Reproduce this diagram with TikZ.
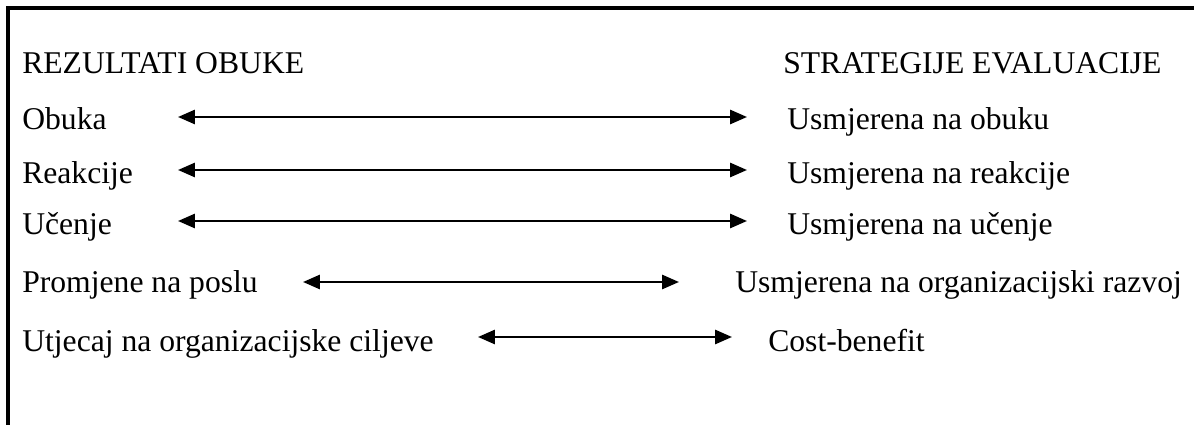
\documentclass[tikz,border=0pt]{standalone}
\usepackage{fontspec}
\setmainfont{Liberation Serif}
\usepackage{tikz}
\usetikzlibrary{arrows.meta,positioning,calc}

\tikzset{
  lbl/.style={anchor=base west, inner sep=0pt, font=\fontsize{22.5}{27}\selectfont},
  veza/.style={line width=1.7pt, {Triangle[length=12pt,width=10pt]}-{Triangle[length=12pt,width=10pt]}}
}

\begin{document}
\begin{tikzpicture}[x=0.025cm,y=-0.025cm]
        \useasboundingbox (0,0) rectangle (1194,425);
        % Frame (open at right and bottom)
        \draw[line width=2.2pt] (8,425) -- (8,8) -- (1194,8);

        % Headers
        \node[lbl] (rez) at (22,74) {REZULTATI OBUKE};
        \node[lbl] (str) at (783,74) {STRATEGIJE EVALUACIJE};

        % Left column
        \node[lbl] (obuka) at (22,130) {Obuka};
        \node[lbl] (reak) at (22,184) {Reakcije};
        \node[lbl] (ucen) at (22,235) {Učenje};
        \node[lbl] (prom) at (22,293) {Promjene na poslu};
        \node[lbl] (utj) at (22,351) {Utjecaj na organizacijske ciljeve};

        % Right column
        \node[lbl] (sobuka) at (787,130) {Usmjerena na obuku};
        \node[lbl] (sreak) at (787,184) {Usmjerena na reakcije};
        \node[lbl] (sucen) at (787,235) {Usmjerena na učenje};
        \node[lbl] (sprom) at (735,293) {Usmjerena na organizacijski razvoj};
        \node[lbl] (sutj) at (768,351) {Cost-benefit};

        % Arrow ends
        \coordinate (a1) at (178,117); \coordinate (b1) at (747,117);
        \coordinate (a2) at (178,170); \coordinate (b2) at (747,170);
        \coordinate (a3) at (178,221); \coordinate (b3) at (747,221);
        \coordinate (a4) at (303,282); \coordinate (b4) at (679,282);
        \coordinate (a5) at (478,337); \coordinate (b5) at (732,337);

        % Arrows
        \foreach \i in {1,...,5}
          \draw[veza] (a\i) -- (b\i);
\end{tikzpicture}
\end{document}
